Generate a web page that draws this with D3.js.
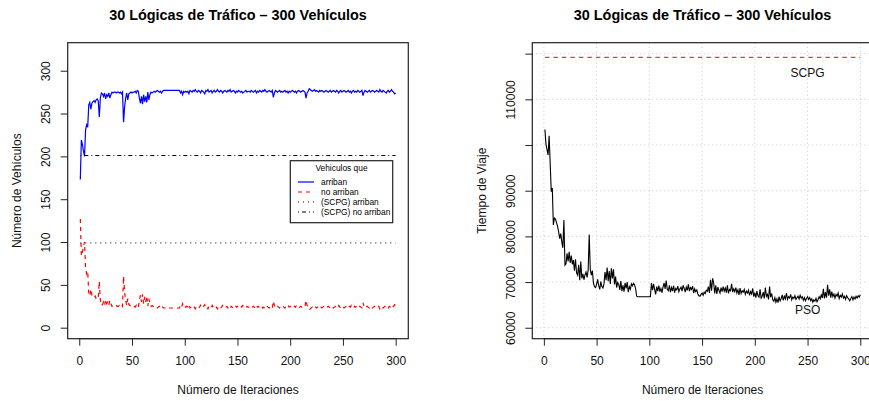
<!DOCTYPE html>
<html>
<head>
<meta charset="utf-8">
<script src="https://cdn.jsdelivr.net/npm/d3@7"></script>
<style>
body { margin: 0; background: #fff; }
text { font-family: "Liberation Sans", Arial, Helvetica, sans-serif; }
</style>
</head>
<body>
<script>
// iterations 1..300
var iterations = d3.range(1, 301);
var xTicks = [0, 50, 100, 150, 200, 250, 300];

// left chart: vehicles that arrive / don't arrive
var arriban = [
173,219,214,206,200,231,237,234,260,263,
255,262,264,265,263,266,267,265,246,268,
274,273,270,274,267,272,270,274,268,272,
275,274,275,275,274,275,275,274,275,273,
275,240,258,268,274,266,273,274,275,274,
275,275,276,274,277,276,268,262,270,261,
272,264,270,263,275,266,272,275,274,275,
276,275,276,277,276,275,276,274,276,277,
277,277,277,277,277,277,277,277,277,277,
277,277,277,277,277,274,276,272,276,275,
276,275,276,273,277,276,275,277,276,278,
276,275,277,276,274,277,276,275,273,277,
276,278,275,276,277,274,276,277,275,276,
278,276,275,277,276,274,276,277,276,275,
277,276,278,275,276,277,276,274,276,275,
277,276,275,276,274,275,276,277,275,276,
276,275,277,276,275,276,277,274,276,275,
277,276,275,277,276,278,276,275,276,277,
276,275,277,269,274,277,276,275,276,277,
275,276,275,276,277,275,276,274,276,275,
276,277,276,275,276,274,276,277,276,275,
276,277,276,275,268,274,276,279,278,277,
276,277,278,276,277,276,275,277,276,277,
276,275,276,277,276,275,276,277,275,276,
277,276,275,277,276,274,276,277,275,276,
277,276,275,276,277,275,276,274,276,277,
275,276,275,277,276,275,276,277,271,275,
277,276,275,276,277,275,276,277,276,275,
276,277,276,275,278,276,275,277,276,275,
274,276,277,275,276,278,276,275,273,274
];

var noArriban = [
127,84,88,95,100,69,63,66,40,37,
45,38,36,35,37,34,33,35,54,32,
26,27,30,26,33,28,30,26,32,28,
25,26,25,25,26,25,25,26,25,27,
25,60,42,32,26,34,27,26,25,26,
25,25,24,26,23,24,32,38,30,39,
28,36,30,37,25,34,28,25,26,25,
24,25,24,23,24,25,24,26,24,23,
23,23,24,23,23,23,23,23,23,23,
23,23,23,23,23,26,24,28,24,25,
24,25,24,27,23,24,25,23,24,22,
24,25,23,24,26,23,24,25,27,23,
24,22,25,24,23,26,24,23,25,24,
22,24,25,23,24,26,24,23,24,25,
23,24,22,25,24,23,24,26,24,25,
23,24,25,24,26,25,24,23,25,24,
24,25,23,24,25,24,23,26,24,25,
23,24,25,23,24,22,24,25,24,23,
24,25,23,31,26,23,24,25,24,23,
25,24,25,24,23,25,24,26,24,25,
24,23,24,25,24,26,24,23,24,25,
24,23,24,25,32,26,24,21,22,23,
24,23,22,24,23,24,25,23,24,23,
24,25,24,23,24,25,24,23,25,24,
23,24,25,23,24,26,24,23,25,24,
23,24,25,24,23,25,24,26,24,23,
25,24,25,23,24,25,24,23,29,25,
23,24,25,24,23,25,24,23,24,25,
24,23,24,25,22,24,25,23,24,25,
26,24,23,25,24,22,24,25,27,26
];

var scpgArriban = 99;
var scpgNoArriban = 201;

// right chart: travel time
var tiempoPSO = [
103400,100200,99000,97800,102000,96000,89800,90600,82500,84000,
83800,83000,82200,81000,79500,80600,78800,77500,83600,73700,
74000,76300,74500,76600,74200,75800,73900,74800,72500,75000,
72000,71500,73800,70400,74500,70800,71800,70500,71600,72200,
71000,72600,80400,72800,71500,72500,69800,69000,68800,69500,
70600,69200,68400,70100,69000,68700,69600,72200,70400,73200,
70200,72400,69600,73000,70800,72800,69500,71200,68800,69900,
69500,68300,70200,68000,69300,67900,69800,68600,70000,67800,
69000,68400,69600,69200,69700,69400,68500,66900,66800,66800,
66800,66800,66800,66800,66800,66800,66800,66800,66800,66800,
66800,69800,68200,69600,68400,67300,69000,68000,69200,67900,
68600,67700,68900,69800,68500,70300,68400,68100,69300,67800,
68800,68000,69200,67700,68600,68300,69100,67900,68500,68900,
68000,69300,68600,67800,68900,68200,69500,68000,68800,68400,
69100,67600,68500,67900,68300,67400,67000,66900,67300,67600,
67100,67800,67500,68200,68000,69000,67600,70500,68100,70800,
69800,67500,69300,67400,68900,68200,67600,68800,67900,69000,
68000,68700,67700,69300,67500,68400,68100,69600,67800,68500,
67900,68800,67600,68300,67200,68700,67500,68100,67800,68400,
67300,68000,67600,68200,67100,67900,67400,68600,66800,67700,
66600,68000,67000,66700,68400,66500,66900,67800,66400,68800,
66900,67300,66200,69000,66700,67500,66100,65800,66600,65600,
66300,65500,66800,65900,66400,67200,66000,66900,66300,67600,
66200,66800,66500,67300,66100,66700,66400,67000,66200,66600,
66900,66300,67100,66500,66800,66000,66600,65900,66400,66800,
66200,66600,65900,66300,65600,66100,65800,66400,65700,66200,
66800,66300,67200,66500,68500,66400,67800,66600,69400,67000,
68400,66600,67900,66800,67400,66500,67300,66900,67600,66400,
67100,66700,67400,66500,66900,66200,67000,66600,66300,65900,
66400,66800,66100,66700,66300,66900,66500,67000,66700,67200
];
var tiempoSCPG = 119200;

var leftYTicks = [0, 50, 100, 150, 200, 250, 300];
var rightYTicks = [60000, 70000, 80000, 90000, 100000, 110000, 120000];
// R drops the labels that would overlap
var rightYLabels = ["60000", "70000", "80000", "90000", "", "110000", ""];

var legendLabels = ["arriban", "no arriban", "(SCPG) arriban", "(SCPG) no arriban"];

var chartTitle = "30 Lógicas de Tráfico \u2013 300 Vehículos";

//layout
var width = 869, height = 401;
var plotTop = 42.7, plotBottom = 338.7, plotW = 340.6;

var svg = d3.select("body").append("svg")
    .attr("width", width)
    .attr("height", height);

function makePanel(left, yDomain, yTicks, yFmt, yTitle, grid) {
    var x = d3.scaleLinear().domain([-10.96, 311.96]).range([left, left + plotW]);
    var y = d3.scaleLinear().domain(yDomain).range([plotBottom, plotTop]);

    if (grid) {
        svg.append("g").selectAll("line.gx")
            .data(xTicks).enter().append("line")
            .attr("x1", function(d) { return x(d); })
            .attr("x2", function(d) { return x(d); })
            .attr("y1", plotTop).attr("y2", plotBottom)
            .attr("stroke", "#c8c8c8").attr("stroke-dasharray", "1,3");
        svg.append("g").selectAll("line.gy")
            .data(yTicks).enter().append("line")
            .attr("y1", function(d) { return y(d); })
            .attr("y2", function(d) { return y(d); })
            .attr("x1", left).attr("x2", left + plotW)
            .attr("stroke", "#c8c8c8").attr("stroke-dasharray", "1,3");
    }

    //bottom axis
    svg.append("g")
        .attr("transform", "translate(0," + plotBottom + ")")
        .call(d3.axisBottom(x).tickValues(xTicks).tickSize(7).tickSizeOuter(0).tickFormat(d3.format("d")))
        .attr("font-size", 12).attr("font-family", null)
        .call(function(g) { g.select(".domain").attr("d", "M" + x(0) + ",0H" + x(300)).attr("stroke", "#222"); })
        .call(function(g) { g.selectAll(".tick line").attr("stroke", "#222"); })
        .call(function(g) { g.selectAll(".tick text").attr("y", 18).attr("fill", "#111"); });

    //left axis, rotated labels
    svg.append("g")
        .attr("transform", "translate(" + left + ",0)")
        .call(d3.axisLeft(y).tickValues(yTicks).tickSize(7).tickSizeOuter(0).tickFormat(yFmt))
        .attr("font-size", 12).attr("font-family", null)
        .call(function(g) { g.select(".domain").remove(); })
        .call(function(g) { g.selectAll(".tick line").attr("stroke", "#222"); })
        .call(function(g) {
            g.selectAll(".tick text")
                .attr("x", 0).attr("dy", "0.35em")
                .attr("text-anchor", "middle")
                .attr("fill", "#111")
                .attr("transform", "translate(-22,0) rotate(-90)");
        });

    //box
    svg.append("rect")
        .attr("x", left).attr("y", plotTop)
        .attr("width", plotW).attr("height", plotBottom - plotTop)
        .attr("fill", "none").attr("stroke", "#222").attr("stroke-width", 1.2);

    //titles
    svg.append("text")
        .attr("x", left + plotW / 2).attr("y", 20)
        .attr("text-anchor", "middle")
        .attr("font-weight", "bold").attr("font-size", 14.4)
        .text(chartTitle);

    svg.append("text")
        .attr("x", left + plotW / 2).attr("y", 394)
        .attr("text-anchor", "middle").attr("font-size", 12).attr("fill", "#111")
        .text("Número de Iteraciones");

    svg.append("text")
        .attr("transform", "translate(" + (left - 51) + "," + ((plotTop + plotBottom) / 2) + ") rotate(-90)")
        .attr("dy", "0.35em")
        .attr("text-anchor", "middle").attr("font-size", 12).attr("fill", "#111")
        .text(yTitle);

    return {x: x, y: y};
}

// ---- left chart
var L = makePanel(67.7, [-12.84, 332.7], leftYTicks, d3.format("d"), "Número de Vehículos", false);

svg.append("line")
    .attr("x1", L.x(1)).attr("x2", L.x(300))
    .attr("y1", L.y(scpgArriban)).attr("y2", L.y(scpgArriban))
    .attr("stroke", "#000").attr("stroke-dasharray", "1,4");

svg.append("line")
    .attr("x1", L.x(1)).attr("x2", L.x(300))
    .attr("y1", L.y(scpgNoArriban)).attr("y2", L.y(scpgNoArriban))
    .attr("stroke", "#000").attr("stroke-dasharray", "1,3,4,3");

var lineL = d3.line()
    .x(function(d, i) { return L.x(iterations[i]); })
    .y(function(d) { return L.y(d); });

svg.append("path")
    .datum(arriban)
    .attr("fill", "none").attr("stroke", "#0000ff").attr("stroke-width", 1.2)
    .attr("d", lineL);

svg.append("path")
    .datum(noArriban)
    .attr("fill", "none").attr("stroke", "#ff0000").attr("stroke-width", 1.2)
    .attr("stroke-dasharray", "4,4")
    .attr("d", lineL);

//legend
var legend = svg.append("g").attr("transform", "translate(290.3,160.7)");
legend.append("rect")
    .attr("width", 102.4).attr("height", 62)
    .attr("fill", "#fff").attr("stroke", "#222").attr("stroke-width", 1.2);
legend.append("text")
    .attr("x", 51.2).attr("y", 10.3)
    .attr("text-anchor", "middle").attr("font-size", 8.4)
    .text("Vehiculos que");

var legendStyles = [
    {c: "#0000ff", dash: null},
    {c: "#ff0000", dash: "4,4"},
    {c: "#000", dash: "1,4"},
    {c: "#000", dash: "1,3,4,3"}
];

legend.selectAll("line.key")
    .data(legendLabels).enter().append("line")
    .attr("x1", 7.7).attr("x2", 23.7)
    .attr("y1", function(d, i) { return 21.3 + i * 10; })
    .attr("y2", function(d, i) { return 21.3 + i * 10; })
    .attr("stroke", function(d, i) { return legendStyles[i].c; })
    .attr("stroke-width", 1.2)
    .attr("stroke-dasharray", function(d, i) { return legendStyles[i].dash; });

legend.selectAll("text.key")
    .data(legendLabels).enter().append("text")
    .attr("x", 30.7)
    .attr("y", function(d, i) { return 21.3 + i * 10; })
    .attr("dy", "0.35em")
    .attr("font-size", 8.4)
    .text(function(d) { return d; });

// ---- right chart
var R = makePanel(532.3, [57600, 122400], rightYTicks,
    function(d, i) { return rightYLabels[i]; }, "Tiempo de Viaje", true);

svg.append("path")
    .datum(tiempoPSO)
    .attr("fill", "none").attr("stroke", "#000").attr("stroke-width", 1.1)
    .attr("d", d3.line()
        .x(function(d, i) { return R.x(iterations[i]); })
        .y(function(d) { return R.y(d); }));

svg.append("line")
    .attr("x1", R.x(1)).attr("x2", R.x(300))
    .attr("y1", R.y(tiempoSCPG)).attr("y2", R.y(tiempoSCPG))
    .attr("stroke", "#ff0000").attr("stroke-dasharray", "4.5,4");

svg.append("text")
    .attr("x", R.x(250)).attr("y", R.y(115800))
    .attr("dy", "0.35em").attr("text-anchor", "middle")
    .attr("font-size", 12).attr("fill", "#111")
    .text("SCPG");

svg.append("text")
    .attr("x", R.x(250)).attr("y", R.y(64000))
    .attr("dy", "0.35em").attr("text-anchor", "middle")
    .attr("font-size", 12).attr("fill", "#111")
    .text("PSO");
</script>
</body>
</html>
